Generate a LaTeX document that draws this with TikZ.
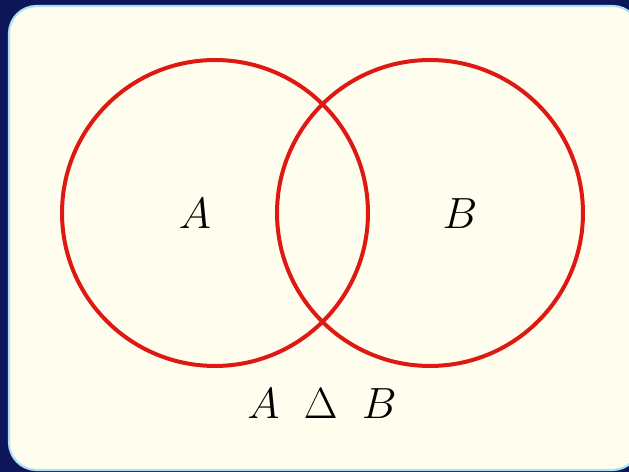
\documentclass[tikz,border=0pt]{standalone}
\usepackage{amsmath}
\usepackage{tikz}
\usetikzlibrary{calc,positioning}
\definecolor{navy}{RGB}{12,22,88}
\definecolor{cream}{RGB}{255,253,238}
\definecolor{rim}{RGB}{170,225,245}
\definecolor{setred}{RGB}{222,24,18}

\begin{document}
\begin{tikzpicture}[x=0.02cm, y=-0.02cm,
        card/.style={rectangle, rounded corners=0.55cm, draw=rim,
                     line width=1.2pt, fill=cream},
        setcirc/.style={circle, draw=setred, line width=0.08cm,
                        minimum size=6.12cm, inner sep=0pt},
        setlab/.style={font=\fontsize{32}{38}\selectfont}]
        % backdrop and card
        \fill[navy] (0,0) rectangle (629,472);
        \useasboundingbox (0,0) rectangle (629,472);
        \draw[card] (9,6) rectangle (640,470);
        % the two sets
        \node[setcirc] (setA) at (215,213) {};
        \node[setcirc] (setB) at (430,213) {};
        \node[setlab] (labA) at (195,214) {$A$};
        \node[setlab] (labB) at (460,214) {$B$};
        \node[setlab] (symdiff) at (322,404) {$A\ \,\Delta\ \,B$};
    \end{tikzpicture}
\end{document}
